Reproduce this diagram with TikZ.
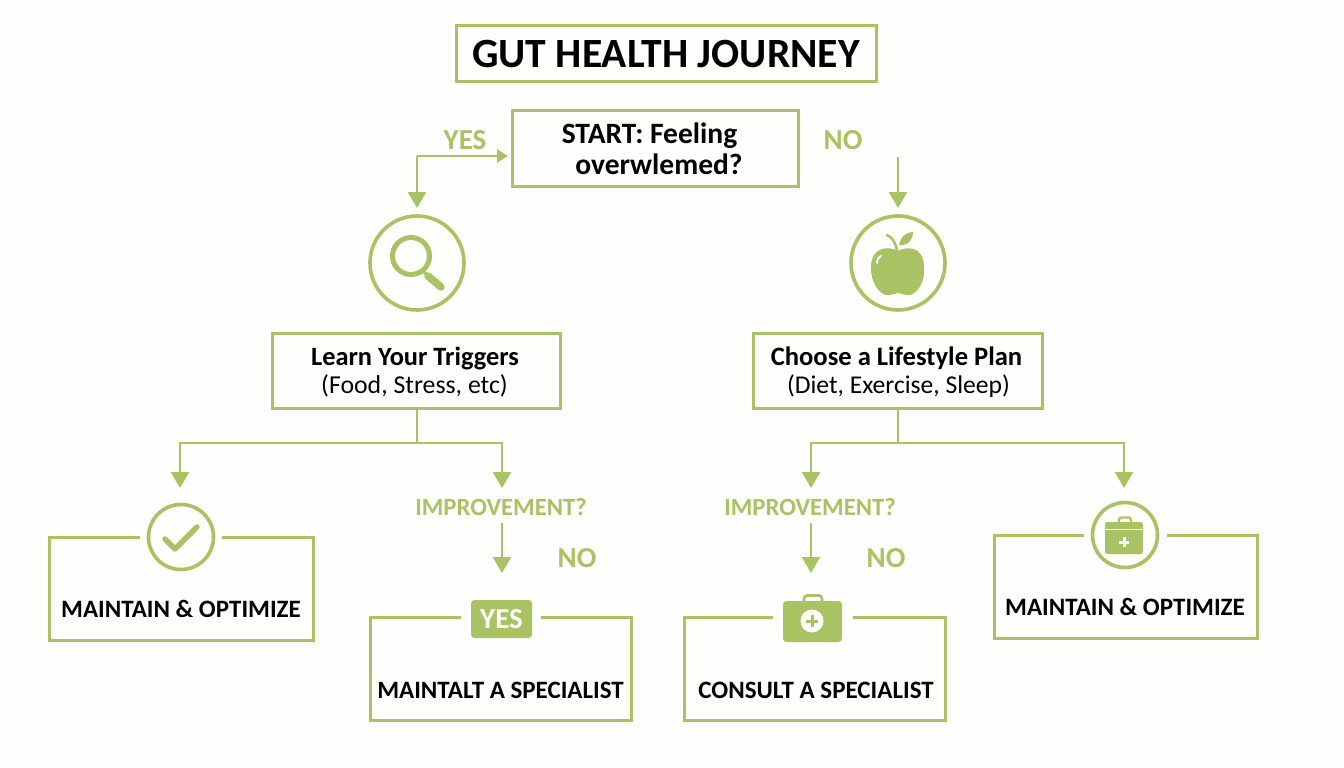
\documentclass[tikz,border=0pt]{standalone}
\usepackage{fontspec}
\setmainfont{Carlito}
\usetikzlibrary{arrows.meta}
\definecolor{leaf}{HTML}{A9C264}
\definecolor{paper}{HTML}{FEFEFC}
\tikzset{
  ln/.style={draw=leaf,line width=3pt,line join=miter},
  flow/.style={draw=leaf,line width=2.7pt,-{Triangle[length=16pt,width=18pt,fill=leaf]}},
  smallflow/.style={draw=leaf,line width=2.7pt,-{Triangle[length=11pt,width=13pt,fill=leaf]}},
  plainflow/.style={draw=leaf,line width=2.7pt},
  boxnode/.style={draw=leaf,line width=3pt,inner sep=0pt,outer sep=0pt,anchor=north west,fill=none},
  ghost/.style={inner sep=0pt,outer sep=0pt,anchor=north west},
  ring/.style={circle,draw=leaf,line width=3.6pt,inner sep=0pt,outer sep=0pt},
  glabel/.style={text=leaf,font=\bfseries,inner sep=0pt},
  tag/.style={text=black,font=\bfseries\fontsize{25}{28}\selectfont,inner sep=0pt},
  body/.style={text=black,inner sep=0pt,align=center}
}
\begin{document}
\begin{tikzpicture}[x=1pt,y=-1pt]
\useasboundingbox[fill=paper] (0,0) rectangle (1344,768);
% title
\node[boxnode,minimum width=420pt,minimum height=56pt] (title) at (456,26) {};
\node[tag,font=\bfseries\fontsize{41.6}{44}\selectfont] (titletext) at (666,54) {GUT HEALTH JOURNEY};
% start
\node[boxnode,minimum width=286pt,minimum height=76pt] (start) at (512,110) {};
\node[body,font=\bfseries\fontsize{29.5}{31}\selectfont] (starttext) at (659,148.5) {START: Feeling\hspace*{19pt}\\overwlemed?};
% circles top
\node[ring,minimum size=94pt] (lens) at (417,263) {};
\node[ring,minimum size=94pt] (apple) at (898,263) {};
% top connectors
\coordinate (corner) at (417,156);
\coordinate (noend) at (898,157);
\draw[smallflow] (corner) -- ([xshift=-4pt]start.west |- corner);
\draw[flow] (corner) -- ([yshift=8pt]lens.north);
\draw[flow] (noend) -- ([yshift=8pt]apple.north);
\node[glabel,font=\bfseries\fontsize{29}{30}\selectfont] (yes1) at (465,140) {YES};
\node[glabel,font=\bfseries\fontsize{29}{30}\selectfont] (no1) at (843,140) {NO};
% magnifier
\draw[draw=leaf,line width=5pt] (411,256) circle (18.5pt);
\draw[draw=leaf,line width=3pt] (423,271) -- (429,277);
\draw[draw=leaf,line width=7.5pt,line cap=round] (428,276) -- (441,287);
% apple
\fill[leaf] (898,251) .. controls (889,246) and (872,246) .. (871,266)
  .. controls (870,282) and (880,296) .. (888,295)
  .. controls (893,295) and (895,293) .. (898,293)
  .. controls (901,293) and (903,295) .. (908,295)
  .. controls (916,296) and (926,282) .. (924,266)
  .. controls (923,246) and (907,246) .. (898,251) -- cycle;
\draw[draw=leaf,line width=2.6pt,line cap=round] (887,235) .. controls (892,237) and (896,243) .. (897,251);
\fill[leaf] (899,245) .. controls (901,235) and (908,232) .. (913,232)
  .. controls (913,240) and (908,246) .. (899,245) -- cycle;
\draw[draw=paper,line width=2pt,line cap=round] (877,263) .. controls (877,259) and (879,257) .. (881,256);
% mid boxes
\node[boxnode,minimum width=288pt,minimum height=75pt] (learn) at (272,333) {};
\node[boxnode,minimum width=289pt,minimum height=75pt] (plan) at (753,333) {};
\node[body,font=\bfseries\fontsize{26.4}{28}\selectfont] (learnh) at (415,358.5) {Learn Your Triggers};
\node[body,font=\fontsize{25.8}{28}\selectfont] (learnb) at (414.5,386) {(Food, Stress, etc)};
\node[body,font=\bfseries\fontsize{26.6}{28}\selectfont] (planh) at (896.5,358.5) {Choose a Lifestyle Plan};
\node[body,font=\fontsize{25.6}{28}\selectfont] (planb) at (898.5,386) {(Diet, Exercise, Sleep)};
% splits
\coordinate (lsplit) at (417,443);
\coordinate (rsplit) at (898,443);
\coordinate (l1) at (180,488);
\coordinate (l2) at (502,488);
\coordinate (r1) at (811,488);
\coordinate (r2) at (1124,488);
\draw[plainflow] (learn.south -| lsplit) -- (lsplit);
\draw[plainflow] (plan.south -| rsplit) -- (rsplit);
\draw[flow] (lsplit) -| (l1);
\draw[flow] (lsplit) -| (l2);
\draw[flow] (rsplit) -| (r1);
\draw[flow] (rsplit) -| (r2);
% improvement
\node[glabel,font=\bfseries\fontsize{24.7}{26}\selectfont] (imp1) at (501,507) {IMPROVEMENT?};
\node[glabel,font=\bfseries\fontsize{24.7}{26}\selectfont] (imp2) at (810,507) {IMPROVEMENT?};
\coordinate (t1) at (502,573);
\coordinate (t2) at (811,573);
\draw[flow] (imp1.south -| t1) ++(0,7) -- (t1);
\draw[flow] (imp2.south -| t2) ++(0,7) -- (t2);
\node[glabel,font=\bfseries\fontsize{29}{30}\selectfont] (no2) at (577,558) {NO};
\node[glabel,font=\bfseries\fontsize{29}{30}\selectfont] (no3) at (886,558) {NO};
% bottom boxes (outlines with a gap for the icon)
\node[ghost,minimum width=264.5pt,minimum height=103pt] (b1) at (49,537) {};
\node[ghost,minimum width=261.5pt,minimum height=103pt] (b2) at (370,617) {};
\node[ghost,minimum width=261.5pt,minimum height=103pt] (b3) at (684,617) {};
\node[ghost,minimum width=263.5pt,minimum height=103pt] (b4) at (994,535) {};
\coordinate (b1a) at (140,537); \coordinate (b1b) at (222,537);
\coordinate (b2a) at (461,617); \coordinate (b2b) at (541,617);
\coordinate (b3a) at (773,617); \coordinate (b3b) at (853,617);
\coordinate (b4a) at (1084,535); \coordinate (b4b) at (1167,535);
\draw[ln] (b1a) -- (b1.north west) -- (b1.south west) -- (b1.south east) -- (b1.north east) -- (b1b);
\draw[ln] (b2a) -- (b2.north west) -- (b2.south west) -- (b2.south east) -- (b2.north east) -- (b2b);
\draw[ln] (b3a) -- (b3.north west) -- (b3.south west) -- (b3.south east) -- (b3.north east) -- (b3b);
\draw[ln] (b4a) -- (b4.north west) -- (b4.south west) -- (b4.south east) -- (b4.north east) -- (b4b);
\node[tag] (b1t) at (181,609) {MAINTAIN \& OPTIMIZE};
\node[tag] (b2t) at (500.5,690) {MAINTALT A SPECIALIST};
\node[tag] (b3t) at (816,690) {CONSULT A SPECIALIST};
\node[tag] (b4t) at (1125,607) {MAINTAIN \& OPTIMIZE};
% check icon
\node[ring,minimum size=65pt] (checkring) at (181,537) {};
\draw[draw=leaf,line width=5.5pt,line cap=round,line join=round] (165,539) -- (175,549) -- (197,527);
% YES badge
\node[fill=leaf,rounded corners=3.5pt,minimum width=61pt,minimum height=38pt,inner sep=0pt,text=paper,font=\bfseries\fontsize{29}{30}\selectfont] (yesbadge) at (501.5,619) {YES};
% med case 1
\draw[draw=leaf,line width=2.6pt,rounded corners=3pt] (804,602) -- (804,595.5) -- (822,595.5) -- (822,602);
\fill[leaf,rounded corners=3.5pt] (783,601) rectangle (842,642);
\fill[paper] (812,621) circle (11.5pt);
\fill[leaf] (810.5,615) rectangle (813.5,627);
\fill[leaf] (806,619.5) rectangle (818,622.5);
% med case 2
\node[ring,minimum size=65pt] (casering) at (1125,535) {};
\draw[draw=leaf,line width=2.2pt,rounded corners=2.5pt] (1119,523) -- (1119,517.5) -- (1131,517.5) -- (1131,523);
\fill[leaf,rounded corners=2.5pt] (1105,522) rectangle (1143,554);
\fill[paper] (1105,528.5) rectangle (1143,530);
\fill[paper] (1122.7,537) rectangle (1125.7,547);
\fill[paper] (1119.2,540.5) rectangle (1129.2,543.5);
\end{tikzpicture}
\end{document}
